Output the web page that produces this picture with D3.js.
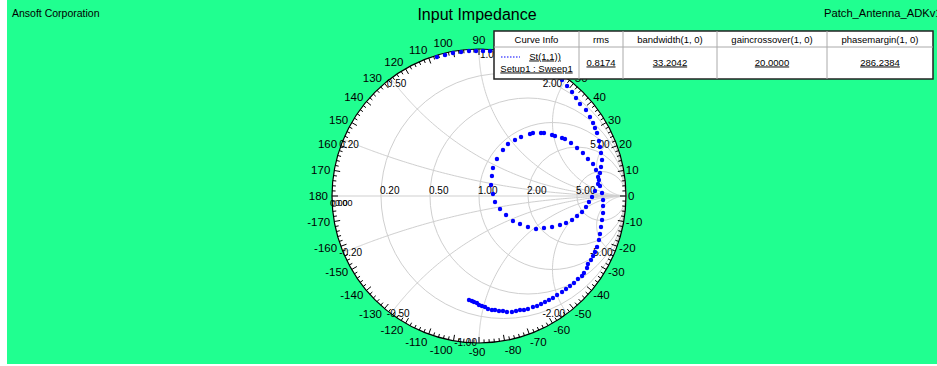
<!DOCTYPE html>
<html>
<head>
<meta charset="utf-8">
<script src="https://cdn.jsdelivr.net/npm/d3@7"></script>
<style>
  body { margin: 0; background: #fff; }
  svg { display: block; }
  text { font-family: "Liberation Sans", Arial, sans-serif; }
</style>
</head>
<body>
<svg id="chart" width="937" height="366"></svg>
<script>
// Smith chart grid values
const resistanceCircles = [0.2, 0.5, 1, 2, 5];
const reactanceArcs = [0.2, 0.5, 1, 2, 5, -0.2, -0.5, -1, -2, -5];
const angleLabels = [0, 10, 20, 30, 40, 50, 60, 70, 80, 90, 100, 110, 120, 130, 140, 150, 160, 170, 180,
  -10, -20, -30, -40, -50, -60, -70, -80, -90, -100, -110, -120, -130, -140, -150, -160, -170];

// St(1,1) reflection coefficient, real and imaginary parts
const s11Re = [-0.068, -0.048, -0.034, -0.014, 0.000, 0.020, 0.041, 0.061, 0.088, 0.109,
  0.136, 0.163, 0.190, 0.224, 0.252, 0.279, 0.306, 0.333, 0.367, 0.395,
  0.422, 0.449, 0.476, 0.503, 0.531, 0.565, 0.592, 0.619, 0.646, 0.673,
  0.701, 0.714, 0.735, 0.741, 0.762, 0.776, 0.789, 0.803, 0.816, 0.823,
  0.830, 0.837, 0.844, 0.844, 0.844, 0.837,
  0.810, 0.789, 0.769, 0.748, 0.728, 0.701, 0.667, 0.633, 0.592, 0.551,
  0.497, 0.442, 0.388, 0.333, 0.279, 0.231, 0.184, 0.143, 0.109, 0.095,
  0.082, 0.088, 0.095, 0.122, 0.163, 0.197, 0.245, 0.286, 0.347, 0.367,
  0.422, 0.442, 0.497, 0.517, 0.565, 0.585, 0.626, 0.667, 0.707, 0.741,
  0.776, 0.796, 0.810,
  0.823, 0.816, 0.823, 0.830, 0.837, 0.830, 0.823, 0.816, 0.803, 0.789,
  0.776, 0.755, 0.728, 0.687, 0.660, 0.633, 0.599, 0.565, 0.524, 0.483,
  0.442, 0.401, 0.354, 0.306, 0.259, 0.211, 0.163, 0.116, 0.075, 0.027,
  -0.020, -0.068, -0.122, -0.177, -0.231, -0.286];
const s11Im = [-0.707, -0.714, -0.721, -0.728, -0.741, -0.748, -0.755, -0.769, -0.776, -0.776,
  -0.782, -0.782, -0.789, -0.789, -0.782, -0.776, -0.776, -0.769, -0.755, -0.748,
  -0.735, -0.721, -0.707, -0.694, -0.673, -0.653, -0.633, -0.612, -0.592, -0.565,
  -0.544, -0.524, -0.490, -0.463, -0.435, -0.408, -0.381, -0.347, -0.299, -0.259,
  -0.211, -0.163, -0.116, -0.068, -0.027, 0.020,
  0.082, 0.034, -0.007, -0.041, -0.075, -0.109, -0.136, -0.163, -0.184, -0.197,
  -0.211, -0.218, -0.224, -0.211, -0.190, -0.170, -0.129, -0.088, -0.041, 0.014,
  0.075, 0.136, 0.190, 0.252, 0.313, 0.354, 0.381, 0.401, 0.422, 0.429,
  0.429, 0.429, 0.415, 0.408, 0.395, 0.388, 0.361, 0.327, 0.293, 0.252,
  0.218, 0.177, 0.129,
  0.068, 0.109, 0.156, 0.197, 0.245, 0.293, 0.333, 0.374, 0.429, 0.463,
  0.497, 0.537, 0.585, 0.626, 0.667, 0.707, 0.748, 0.789, 0.823, 0.857,
  0.884, 0.912, 0.932, 0.952, 0.966, 0.980, 0.986, 0.993, 0.986, 0.986,
  0.986, 0.986, 0.980, 0.973, 0.959, 0.946];

// legend table
const legendHeaders = ['Curve Info', 'rms', 'bandwidth(1, 0)', 'gaincrossover(1, 0)', 'phasemargin(1, 0)'];
const legendValues = ['0.8174', '33.2042', '20.0000', '286.2384'];
const curveName = 'St(1,1))';
const curveSetup = 'Setup1 : Sweep1';

const width = 937, height = 366;
const cx = 479, cy = 196, R = 147;

// legend box geometry
const cols = [494, 579, 623, 717, 827, 933];
const boxTop = 31, boxMid = 47, boxBottom = 79;

const svg = d3.select('#chart');

const x = d3.scaleLinear().domain([-1, 1]).range([cx - R, cx + R]);
const y = d3.scaleLinear().domain([-1, 1]).range([cy + R, cy - R]);

// background
svg.append('rect')
    .attr('x', 7).attr('y', 0)
    .attr('width', width - 7).attr('height', 364)
    .attr('fill', '#20ff90');

svg.append('circle')
    .attr('cx', x(0)).attr('cy', y(0)).attr('r', x(1) - x(0))
    .attr('fill', '#fff');

// grid
const grid = svg.append('g')
    .attr('fill', 'none')
    .attr('stroke', '#cfcfcf')
    .attr('stroke-width', 1);

grid.selectAll('circle')
    .data(resistanceCircles)
    .join('circle')
        .attr('cx', d => x(d / (1 + d)))
        .attr('cy', y(0))
        .attr('r', d => x(1 / (1 + d)) - x(0));

const rSteps = [0].concat(d3.range(-3, 4.01, 0.02).map(p => Math.pow(10, p)));
const gamma = (r, xx) => {
    const den = (r + 1) * (r + 1) + xx * xx;
    return [(r * r + xx * xx - 1) / den, 2 * xx / den];
};
const line = d3.line().x(d => x(d[0])).y(d => y(d[1]));

grid.selectAll('path')
    .data(reactanceArcs)
    .join('path')
        .attr('d', d => line(rSteps.map(r => gamma(r, d))));

grid.append('line')
    .attr('x1', x(-1)).attr('x2', x(1))
    .attr('y1', y(0)).attr('y2', y(0));

// outer circle and ticks
svg.append('circle')
    .attr('cx', x(0)).attr('cy', y(0)).attr('r', x(1) - x(0))
    .attr('fill', 'none')
    .attr('stroke', '#000')
    .attr('stroke-width', 1.2);

svg.append('g')
    .attr('stroke', '#000')
    .attr('stroke-width', 1)
  .selectAll('line')
  .data(d3.range(-180, 180, 2))
  .join('line')
    .attr('x1', d => x(Math.cos(d * Math.PI / 180)))
    .attr('y1', d => y(Math.sin(d * Math.PI / 180)))
    .attr('x2', d => x((1 - (d % 10 === 0 ? 6 : 3.5) / R) * Math.cos(d * Math.PI / 180)))
    .attr('y2', d => y((1 - (d % 10 === 0 ? 6 : 3.5) / R) * Math.sin(d * Math.PI / 180)));

// angle labels: left half anchored at the end, right half at the start
const labelPos = d => {
    const t = d * Math.PI / 180;
    const c = Math.cos(t), s = Math.sin(t);
    const side = Math.abs(d) === 90 ? 'middle' : (Math.abs(d) > 90 ? 'end' : 'start');
    const rx = (R + (side === 'end' ? 4 : 2)) / R;
    const ry = (R + 2 + 7 * Math.abs(s)) / R;
    return { x: x(rx * c), y: y(ry * s), anchor: side };
};
const underLegend = p => p.x > cols[0] + 6 && p.x < cols[5] && p.y < boxBottom - 6;

svg.append('g')
    .attr('font-size', 11.5)
    .attr('fill', '#000')
  .selectAll('text')
  .data(angleLabels.filter(d => !underLegend(labelPos(d))))
  .join('text')
    .attr('x', d => labelPos(d).x)
    .attr('y', d => labelPos(d).y)
    .attr('text-anchor', d => labelPos(d).anchor)
    .attr('dx', d => d === -90 ? -2 : 0)
    .attr('dy', '0.36em')
    .text(d => d);

// grid labels
const gl = svg.append('g').attr('font-size', 10).attr('fill', '#000');

gl.selectAll('text.real')
  .data(resistanceCircles)
  .join('text')
    .attr('class', 'real')
    .attr('x', d => x((d - 1) / (d + 1)) - 1)
    .attr('y', y(0) - 2)
    .text(d => d.toFixed(2));

gl.selectAll('text.imag')
  .data(reactanceArcs)
  .join('text')
    .attr('class', 'imag')
    .each(function (d) {
        const p = gamma(0, d);
        const a = Math.abs(d);
        let anchor, dx;
        if (d > 0) {
            anchor = a <= 1 ? 'start' : 'end';
            dx = a < 1 ? -4 : (a === 1 ? 1 : -5);
        } else {
            anchor = a < 1 ? 'start' : 'end';
            dx = a < 1 ? -4 : -2;
        }
        d3.select(this)
            .attr('x', x(p[0]) + dx)
            .attr('y', y(p[1]) + (d > 0 ? 9 : 3))
            .attr('text-anchor', anchor);
    })
    .text(d => d.toFixed(2));

gl.selectAll('text.zero')
  .data([-2, 3])
  .join('text')
    .attr('class', 'zero')
    .attr('font-size', 9)
    .attr('x', d => x(-1) + d)
    .attr('y', y(0) + 10)
    .text('0.00');

// curve points
svg.append('g')
    .attr('fill', '#0000ff')
  .selectAll('circle')
  .data(d3.range(s11Re.length))
  .join('circle')
    .attr('cx', i => x(s11Re[i]))
    .attr('cy', i => y(s11Im[i]))
    .attr('r', 2.2);

// legend table
const lg = svg.append('g').attr('font-size', 9.5).attr('fill', '#000');

lg.append('rect')
    .attr('x', cols[0]).attr('y', boxTop)
    .attr('width', cols[5] - cols[0]).attr('height', boxBottom - boxTop)
    .attr('fill', '#fff')
    .attr('stroke', '#222')
    .attr('stroke-width', 1.5);

lg.append('line')
    .attr('x1', cols[0]).attr('x2', cols[5])
    .attr('y1', boxMid).attr('y2', boxMid)
    .attr('stroke', '#aaa');

lg.selectAll('line.col')
  .data(cols.slice(1, 5))
  .join('line')
    .attr('class', 'col')
    .attr('x1', d => d).attr('x2', d => d)
    .attr('y1', boxTop).attr('y2', boxBottom)
    .attr('stroke', '#aaa');

lg.selectAll('text.head')
  .data(legendHeaders)
  .join('text')
    .attr('class', 'head')
    .attr('text-anchor', 'middle')
    .attr('x', (d, i) => (cols[i] + cols[i + 1]) / 2)
    .attr('y', 42.5)
    .text(d => d);

lg.selectAll('text.val')
  .data(legendValues)
  .join('text')
    .attr('class', 'val')
    .attr('text-anchor', 'middle')
    .attr('text-decoration', 'underline')
    .attr('x', (d, i) => (cols[i + 1] + cols[i + 2]) / 2)
    .attr('y', 65.5)
    .text(d => d);

lg.append('line')
    .attr('x1', 501).attr('x2', 520)
    .attr('y1', 57).attr('y2', 57)
    .attr('stroke', '#0000ff')
    .attr('stroke-width', 1.2)
    .attr('stroke-dasharray', '1.5,1.5');

lg.append('text')
    .attr('x', 545).attr('y', 59.5)
    .attr('text-anchor', 'middle')
    .attr('text-decoration', 'underline')
    .text(curveName);

lg.append('text')
    .attr('x', (cols[0] + cols[1]) / 2).attr('y', 71.5)
    .attr('text-anchor', 'middle')
    .attr('text-decoration', 'underline')
    .text(curveSetup);

// header texts
svg.append('text')
    .attr('x', 12).attr('y', 17)
    .attr('font-size', 10.5)
    .text('Ansoft Corporation');

svg.append('text')
    .attr('x', 477).attr('y', 20)
    .attr('font-size', 16)
    .attr('text-anchor', 'middle')
    .text('Input Impedance');

svg.append('text')
    .attr('x', 824).attr('y', 17)
    .attr('font-size', 11.2)
    .text('Patch_Antenna_ADKv1');
</script>
</body>
</html>
